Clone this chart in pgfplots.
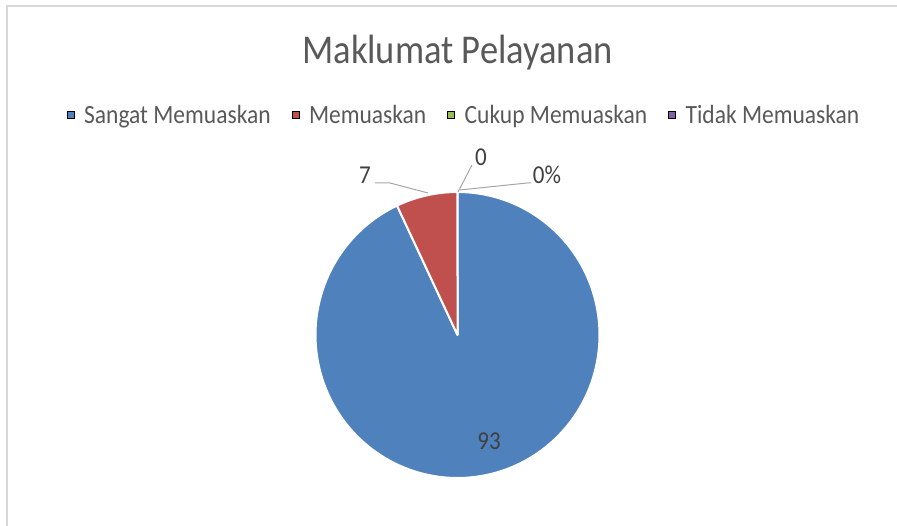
\documentclass[border=0pt]{standalone}
\usepackage{fontspec}
\setmainfont{Carlito}
\usepackage{graphicx}
\usepackage{pgfplots}
\usepackage{pgfplotstable}
\pgfplotsset{compat=1.18}
\definecolor{cA}{HTML}{4F81BD}
\definecolor{cB}{HTML}{C0504D}
\definecolor{cC}{HTML}{9BBB59}
\definecolor{cD}{HTML}{8064A2}
\definecolor{tgray}{HTML}{595959}
\definecolor{lgray}{HTML}{404040}
\definecolor{frame}{HTML}{D9D9D9}
\definecolor{lead}{HTML}{A6A6A6}
\newcommand\vs[1]{\scalebox{1}[1.12]{#1}}
\pgfplotstableread{
cat value
Sangat 93
Memuaskan 7
Cukup 0
Tidak 0
}\piedata
\begin{document}
\begin{tikzpicture}
\pgfplotstablegetelem{0}{value}\of\piedata \pgfmathsetmacro\vA{\pgfplotsretval}
\pgfplotstablegetelem{1}{value}\of\piedata \pgfmathsetmacro\vB{\pgfplotsretval}
\pgfplotstablegetelem{2}{value}\of\piedata \pgfmathsetmacro\vC{\pgfplotsretval}
\pgfplotstablegetelem{3}{value}\of\piedata \pgfmathsetmacro\vD{\pgfplotsretval}
\pgfmathsetmacro\tot{\vA+\vB+\vC+\vD}
\pgfmathsetmacro\aA{90}
\pgfmathsetmacro\aB{90-(\vA/\tot)*360}
\pgfmathsetmacro\aC{\aB-(\vB/\tot)*360}
\begin{axis}[
  scale only axis, width=897pt, height=526pt,
  xmin=0, xmax=897, ymin=0, ymax=526,
  hide axis,
  legend image code/.code={\fill[#1] (0pt,-3.5pt) rectangle (7pt,3.5pt);},
  legend style={at={(0.5173,0.7814)}, anchor=center, draw=none, fill=none,
    font=\fontsize{23.5}{26}\selectfont, text=tgray, inner sep=0pt,
    /tikz/every odd column/.append style={column sep=8pt},
    /tikz/every even column/.append style={column sep=19pt}},
  legend columns=-1,
]
\draw[frame, line width=1.5pt] (axis cs:7,0) -- (axis cs:7,520) -- (axis cs:897,520);
\addplot[forget plot, fill=cA, draw=white, line width=2pt, line join=round,
  domain=\aB:\aA, samples=160] ({457.5+142*cos(x)},{191+143*sin(x)}) -- (axis cs:457.5,191) -- cycle;
\addplot[forget plot, fill=cB, draw=white, line width=2pt, line join=round,
  domain=\aC:\aB, samples=30] ({457.5+142*cos(x)},{191+143*sin(x)}) -- (axis cs:457.5,191) -- cycle;
\addlegendimage{fill=cA}\addlegendentry{\vs{Sangat Memuaskan}}
\addlegendimage{fill=cB}\addlegendentry{\vs{Memuaskan}}
\addlegendimage{fill=cC}\addlegendentry{\vs{Cukup Memuaskan}}
\addlegendimage{fill=cD}\addlegendentry{\vs{Tidak Memuaskan}}
\node[anchor=base, font=\fontsize{36.5}{40}\selectfont, text=tgray] at (axis cs:457.5,462) {\vs{Maklumat Pelayanan}};
\draw[lead, line width=1pt] (axis cs:375,343) -- (axis cs:390,343) -- (axis cs:428,333);
\draw[lead, line width=1pt] (axis cs:458,334) -- (axis cs:472,361);
\draw[lead, line width=1pt] (axis cs:460,336) -- (axis cs:527,343) -- (axis cs:531,343);
\node[font=\fontsize{23}{26}\selectfont, text=lgray] at (axis cs:365,351) {\vs{7}};
\node[font=\fontsize{23}{26}\selectfont, text=lgray] at (axis cs:481,369) {\vs{0}};
\node[font=\fontsize{23}{26}\selectfont, text=lgray] at (axis cs:547,351) {\vs{0\%}};
\node[font=\fontsize{23}{26}\selectfont, text=lgray] at (axis cs:489,85) {\vs{93}};
\end{axis}
\pgfresetboundingbox
\path[use as bounding box] (current axis.south west) rectangle (current axis.north east);
\end{tikzpicture}
\end{document}
